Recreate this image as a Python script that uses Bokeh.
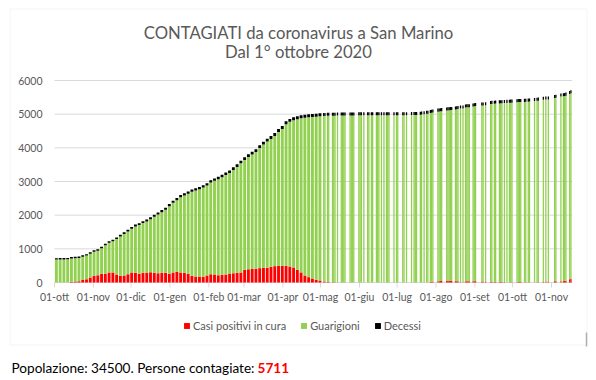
import pandas as pd
from bokeh.plotting import figure
from bokeh.models import Range1d, Label, Legend, LegendItem, PolyAnnotation, ColumnDataSource
from bokeh.core.properties import value
from bokeh.embed import file_html
from bokeh.resources import INLINE

# ---------------- data ----------------
inizio = "2020-10-01"

# phase 1: one value every 3 days (1 Oct 2020 - 29 Apr 2021)
positivi_fase1 = [0, 0, 0, 0, 25, 30, 40, 75, 100, 150,
                  200, 218, 258, 258, 298, 298, 240, 200, 208, 248,
                  300, 288, 258, 288, 280, 308, 288, 278, 288, 290,
                  258, 298, 317, 298, 290, 258, 198, 179, 175, 169,
                  208, 248, 240, 215, 228, 238, 268, 278, 290, 298,
                  377, 397, 400, 407, 427, 432, 437, 466, 486, 490,
                  496, 496, 476, 446, 377, 300, 208, 159, 119, 79, 60]
guariti_fase1 = [682, 684, 686, 688, 689, 690, 691, 692, 700, 705,
                 712, 728, 757, 846, 880, 924, 1051, 1170, 1231, 1270,
                 1297, 1378, 1447, 1476, 1533, 1574, 1663, 1742, 1801, 1868,
                 2009, 2068, 2128, 2236, 2293, 2375, 2494, 2553, 2596, 2652,
                 2672, 2722, 2779, 2853, 2899, 2958, 2988, 3067, 3144, 3245,
                 3265, 3334, 3400, 3472, 3571, 3665, 3749, 3799, 3868, 3984,
                 4067, 4207, 4296, 4371, 4475, 4576, 4688, 4747, 4796, 4846, 4875]
decessi_fase1 = [42, 42, 42, 42, 42, 42, 42, 42, 42, 42,
                 43, 44, 45, 46, 47, 48, 49, 50, 51, 52,
                 53, 54, 55, 56, 57, 58, 59, 60, 61, 62,
                 63, 64, 65, 66, 67, 67, 68, 68, 69, 69,
                 70, 70, 71, 72, 73, 74, 74, 75, 76, 77,
                 78, 79, 80, 81, 82, 83, 84, 85, 86, 86,
                 87, 87, 88, 88, 88, 89, 89, 89, 90, 90, 90]

# phase 2: days (counted from 1 Oct 2020) with a report
giorni_fase2 = [214, 215, 217, 218, 221, 222, 223, 225, 228, 229,
                230, 231, 235, 236, 237, 238, 242, 243, 244, 246,
                249, 250, 252, 253, 256, 257, 258, 260, 262, 264,
                265, 266, 270, 272, 273, 277, 278, 280, 284, 286,
                287, 288, 291, 292, 294, 296, 297, 299, 300, 301,
                305, 306, 307, 308, 312, 313, 314, 315, 316, 319,
                320, 321, 323, 325, 327, 328, 329, 330, 333, 334,
                335, 340, 341, 343, 347, 348, 350, 351, 354, 355,
                356, 358, 360, 362, 363, 364, 368, 369, 370, 371,
                374, 375, 377, 378, 382, 384, 385, 389, 391, 393,
                398, 399, 403, 405, 406, 407, 410, 411]
positivi_fase2 = [30, 30, 20, 15, 10, 8, 5, 5, 0, 0,
                  0, 0, 0, 0, 0, 0, 0, 0, 0, 0,
                  0, 0, 0, 0, 0, 0, 0, 0, 0, 0,
                  0, 0, 0, 0, 0, 0, 0, 0, 0, 0,
                  0, 0, 0, 0, 0, 0, 0, 20, 20, 20,
                  40, 40, 45, 45, 50, 50, 50, 50, 45, 40,
                  40, 40, 10, 10, 35, 40, 40, 40, 40, 40,
                  40, 30, 30, 30, 20, 20, 20, 20, 20, 20,
                  20, 20, 0, 5, 5, 5, 10, 15, 15, 15,
                  5, 5, 5, 5, 5, 5, 5, 25, 30, 30,
                  40, 40, 40, 40, 45, 45, 95, 114]
guariti_fase2 = [4915, 4915, 4930, 4935, 4945, 4947, 4950, 4953, 4960, 4960,
                 4960, 4960, 4962, 4962, 4962, 4962, 4965, 4965, 4965, 4965,
                 4965, 4965, 4965, 4965, 4966, 4966, 4966, 4966, 4967, 4967,
                 4967, 4967, 4968, 4968, 4968, 4969, 4969, 4970, 4972, 4972,
                 4974, 4976, 4985, 4990, 5000, 5010, 5015, 5017, 5020, 5030,
                 5035, 5040, 5042, 5045, 5060, 5065, 5068, 5072, 5080, 5100,
                 5105, 5110, 5155, 5160, 5162, 5163, 5165, 5168, 5190, 5195,
                 5200, 5225, 5229, 5234, 5279, 5284, 5289, 5294, 5299, 5301,
                 5304, 5309, 5334, 5335, 5336, 5337, 5344, 5345, 5346, 5347,
                 5359, 5362, 5366, 5369, 5384, 5392, 5396, 5400, 5402, 5405,
                 5438, 5446, 5483, 5493, 5495, 5503, 5503, 5505]
decessi_fase2 = [90, 90, 90, 90, 90, 90, 90, 90, 90, 90,
                 90, 90, 90, 90, 90, 90, 90, 90, 90, 90,
                 90, 90, 90, 90, 90, 90, 90, 90, 90, 90,
                 90, 90, 90, 90, 90, 90, 90, 90, 90, 90,
                 90, 90, 90, 90, 90, 90, 90, 90, 90, 90,
                 90, 90, 90, 90, 90, 90, 90, 90, 90, 90,
                 90, 90, 90, 90, 90, 90, 90, 90, 90, 90,
                 90, 90, 91, 91, 91, 91, 91, 91, 91, 91,
                 91, 91, 91, 91, 91, 91, 91, 91, 91, 91,
                 91, 91, 91, 91, 91, 91, 91, 91, 91, 91,
                 92, 92, 92, 92, 92, 92, 92, 92]

etichette_mesi = ["01-ott", "01-nov", "01-dic", "01-gen", "01-feb", "01-mar", "01-apr",
                  "01-mag", "01-giu", "01-lug", "01-ago", "01-set", "01-ott", "01-nov"]
tick_y = [0, 1000, 2000, 3000, 4000, 5000, 6000]
serie = ["Casi positivi in cura", "Guarigioni", "Decessi"]
colori = ["#FF0000", "#92D050", "#000000"]
popolazione = 34500
contagiati = 5711

# ---------------- layout (pixels of the page) ----------------
W, H = 592, 378
OX, OY = 1, 1                 # page position of the canvas corner
PX_X0, PX_X1 = 55.0, 572.7    # plot area left / right
DAYS = 412.5                  # days shown in the plot area
PY_0, PY_TOP = 283.0, 81.0    # y of 0 and of 6000
Y_MAX = 6000

DAY = pd.Timedelta(days=1)
t0 = pd.Timestamp(inizio)
ppd = (PX_X1 - PX_X0) / DAYS
ppu = (PY_0 - PY_TOP) / Y_MAX

def sx(X):  # page x -> frame screen units
    return X - OX

def sy(Y):  # page y -> frame screen units (up from bottom)
    return H + OY - Y

x_range = Range1d(t0 + DAY * ((OX - PX_X0) / ppd), t0 + DAY * ((OX + W - PX_X0) / ppd))
y_range = Range1d((PY_0 - OY - H) / ppu, (PY_0 - OY) / ppu)

p = figure(width=W, height=H, output_backend="svg", toolbar_location=None,
           x_axis_type="datetime", x_range=x_range, y_range=y_range,
           x_axis_location=None, y_axis_location=None, min_border=0,
           outline_line_color=None, background_fill_color="white",
           border_fill_color="white")
p.grid.visible = False

# gridlines and axis
t_end = t0 + DAY * DAYS
p.segment(x0=[t0] * (len(tick_y) - 1), x1=[t_end] * (len(tick_y) - 1),
          y0=tick_y[1:], y1=tick_y[1:], line_color="#D9D9D9", line_width=1)
p.segment(x0=[t0], x1=[t_end], y0=[0], y1=[0], line_color="#D9D9D9", line_width=1)
mesi = pd.date_range(inizio, periods=len(etichette_mesi), freq="MS")
p.segment(x0=mesi, x1=mesi, y0=[0] * len(mesi), y1=[-5 / ppu] * len(mesi),
          line_color="#D9D9D9", line_width=1)

# bars
date_fase1 = pd.date_range(inizio, periods=len(positivi_fase1), freq="3D")
date_fase2 = t0 + pd.to_timedelta(giorni_fase2, unit="D")
src1 = ColumnDataSource(dict(x=date_fase1 + pd.Timedelta(hours=36), pos=positivi_fase1,
                             gua=guariti_fase1, dec=decessi_fase1))
src2 = ColumnDataSource(dict(x=date_fase2 + pd.Timedelta(hours=12), pos=positivi_fase2,
                             gua=guariti_fase2, dec=decessi_fase2))
r1 = p.vbar_stack(["pos", "gua", "dec"], x="x", width=2.3 * 86400000, color=colori,
                  line_color=None, source=src1)
r2 = p.vbar_stack(["pos", "gua", "dec"], x="x", width=1.02 * 86400000, color=colori,
                  line_color=None, source=src2)

FONT = "Lato"
GREY = "#595959"

# axis labels
for m, lab in zip(mesi, etichette_mesi):
    p.add_layout(Label(x=m, y=sy(297), x_units="data", y_units="screen", text=lab,
                       text_align="center", text_baseline="middle", text_font=FONT,
                       text_font_size="10.5px", text_color=GREY))
for v in tick_y:
    p.add_layout(Label(x=sx(43), y=v, x_units="screen", y_units="data", text=str(v),
                       text_align="right", text_baseline="middle", text_font=FONT,
                       text_font_size="10.5px", text_color=GREY))

# title
p.add_layout(Label(x=sx(299), y=sy(33), x_units="screen", y_units="screen",
                   text="CONTAGIATI da coronavirus a San Marino", text_align="center",
                   text_baseline="middle", text_font=FONT, text_font_size="16.7px",
                   text_color=GREY))
p.add_layout(Label(x=sx(299), y=sy(52), x_units="screen", y_units="screen",
                   text="Dal 1° ottobre 2020", text_align="center",
                   text_baseline="middle", text_font=FONT, text_font_size="16.7px",
                   text_color=GREY))

# legend
legend = Legend(items=[LegendItem(label=value(s), renderers=[a, b])
                       for s, a, b in zip(serie, r1, r2)],
                orientation="horizontal", location=(sx(184), sy(333)),
                glyph_width=7, glyph_height=7, label_height=14, label_standoff=3,
                spacing=14, padding=0, margin=0, border_line_color=None,
                background_fill_alpha=0, label_text_font=FONT,
                label_text_font_size="11px", label_text_color=GREY)
p.add_layout(legend)

# chart box
p.add_layout(PolyAnnotation(xs=[sx(10.5), sx(587.5), sx(587.5), sx(10.5)],
                            ys=[sy(9.5), sy(9.5), sy(345.5), sy(345.5)],
                            xs_units="screen", ys_units="screen", fill_alpha=0,
                            line_color="#D9D9D9", line_width=1))
p.add_layout(PolyAnnotation(xs=[sx(587), sx(587)], ys=[sy(333), sy(347)],
                            xs_units="screen", ys_units="screen", fill_alpha=0,
                            line_color="#000000", line_width=1.5))

# footer
p.add_layout(Label(x=sx(12), y=sy(368), x_units="screen", y_units="screen",
                   text=f"Popolazione: {popolazione}. Persone contagiate: ",
                   text_align="left", text_baseline="middle", text_font=FONT,
                   text_font_size="13.6px", text_color="#000000"))
p.add_layout(Label(x=sx(258), y=sy(368), x_units="screen", y_units="screen",
                   text=f"{contagiati}", text_align="left", text_baseline="middle",
                   text_font=FONT, text_font_size="13.6px", text_font_style="bold",
                   text_color="#FF0000"))

open("out.html", "w").write(file_html(p, INLINE))
